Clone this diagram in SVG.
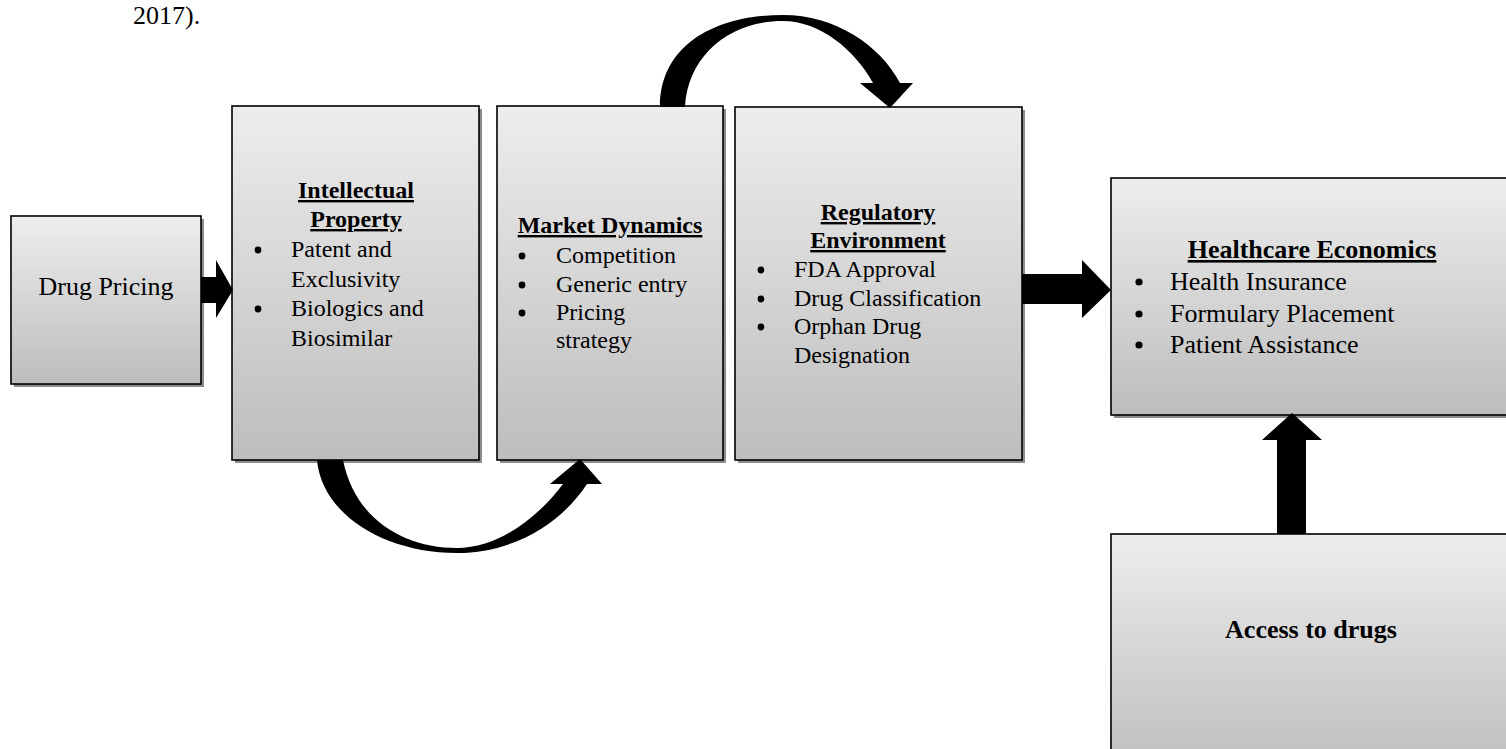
<svg xmlns="http://www.w3.org/2000/svg" width="1506" height="749" viewBox="0 0 1506 749">
<defs>
<linearGradient id="g" x1="0" y1="0" x2="0" y2="1">
<stop offset="0" stop-color="#ededed"/>
<stop offset="1" stop-color="#bdbdbd"/>
</linearGradient>
</defs>
<style>
.box{fill:url(#g);stroke:#000;stroke-width:1.6}
.sh{fill:#8c8c8c}
text{font-family:"Liberation Serif","Times New Roman",serif;fill:#000}
.t24{font-size:24px}
.t26{font-size:26px}
.h{font-weight:bold;text-decoration:underline}
.b{font-weight:bold}
.c{text-anchor:middle}
.arr{fill:#000}
.dot{fill:#000}
</style>
<rect width="1506" height="749" fill="#fff"/>
<text x="133" y="24" class="t26">2017).</text>

<g id="drug-pricing">
<rect class="sh" x="14" y="219" width="190" height="168"/>
<rect class="box" x="11" y="216" width="190" height="168"/>
<text x="106" y="295" class="t26 c">Drug Pricing</text>
</g>

<g id="intellectual-property">
<rect class="sh" x="235" y="109" width="247" height="354"/>
<rect class="box" x="232" y="106" width="247" height="354"/>
<text x="356" y="198" class="t24 h c">Intellectual</text>
<text x="356" y="227" class="t24 h c">Property</text>
<circle class="dot" cx="258" cy="250" r="3.4"/>
<text x="291" y="257" class="t24">Patent and</text>
<text x="291" y="287" class="t24">Exclusivity</text>
<circle class="dot" cx="258" cy="309" r="3.4"/>
<text x="291" y="316" class="t24">Biologics and</text>
<text x="291" y="346" class="t24">Biosimilar</text>
</g>

<g id="market-dynamics">
<rect class="sh" x="500" y="109" width="226" height="354"/>
<rect class="box" x="497" y="106" width="226" height="354"/>
<text x="610" y="233" class="t24 h c">Market Dynamics</text>
<circle class="dot" cx="522" cy="256" r="3.4"/>
<text x="556" y="263" class="t24">Competition</text>
<circle class="dot" cx="522" cy="285" r="3.4"/>
<text x="556" y="292" class="t24">Generic entry</text>
<circle class="dot" cx="522" cy="313" r="3.4"/>
<text x="556" y="320" class="t24">Pricing</text>
<text x="556" y="348" class="t24">strategy</text>
</g>

<g id="regulatory-environment">
<rect class="sh" x="738" y="110" width="287" height="353"/>
<rect class="box" x="735" y="107" width="287" height="353"/>
<text x="878" y="220" class="t24 h c">Regulatory</text>
<text x="878" y="248" class="t24 h c">Environment</text>
<circle class="dot" cx="761" cy="270" r="3.4"/>
<text x="794" y="277" class="t24">FDA Approval</text>
<circle class="dot" cx="761" cy="299" r="3.4"/>
<text x="794" y="306" class="t24">Drug Classification</text>
<circle class="dot" cx="761" cy="327" r="3.4"/>
<text x="794" y="334" class="t24">Orphan Drug</text>
<text x="794" y="363" class="t24">Designation</text>
</g>

<g id="healthcare-economics">
<rect class="sh" x="1114" y="181" width="400" height="237"/>
<rect class="box" x="1111" y="178" width="400" height="237"/>
<text x="1312" y="258" class="t26 h c">Healthcare Economics</text>
<circle class="dot" cx="1139" cy="282" r="3.6"/>
<text x="1170" y="290" class="t26">Health Insurance</text>
<circle class="dot" cx="1139" cy="314" r="3.6"/>
<text x="1170" y="322" class="t26">Formulary Placement</text>
<circle class="dot" cx="1139" cy="345" r="3.6"/>
<text x="1170" y="353" class="t26">Patient Assistance</text>
</g>

<g id="access-to-drugs">
<rect class="sh" x="1114" y="537" width="400" height="240"/>
<rect class="box" x="1111" y="534" width="400" height="240"/>
<text x="1311" y="638" class="t26 b c">Access to drugs</text>
</g>

<g id="connectors">
<polygon class="arr" points="201,277 216,277 216,260 233,290 216,318 216,303 201,303"/>
<polygon class="arr" points="1022,274 1082,274 1082,260 1111,290 1082,318 1082,304 1022,304"/>
<polygon class="arr" points="1277,534 1277,440 1262,440 1292,413 1322,440 1306,440 1306,534"/>
<path class="arr" d="M660,107 C660,45 715,15 783,15 C835,15 880,45 900,83 L913,83 L890,108 L860,83 L873,83 C855,50 820,21 783,21 C730,21 688,55 685,107 Z"/>
<path class="arr" d="M317,460 C322,515 385,553 457,553 C512,553 560,525 587,484 L602,484 L580,459 L550,484 L563,484 C540,515 500,548 457,548 C405,548 355,520 343,460 Z"/>
</g>
</svg>
